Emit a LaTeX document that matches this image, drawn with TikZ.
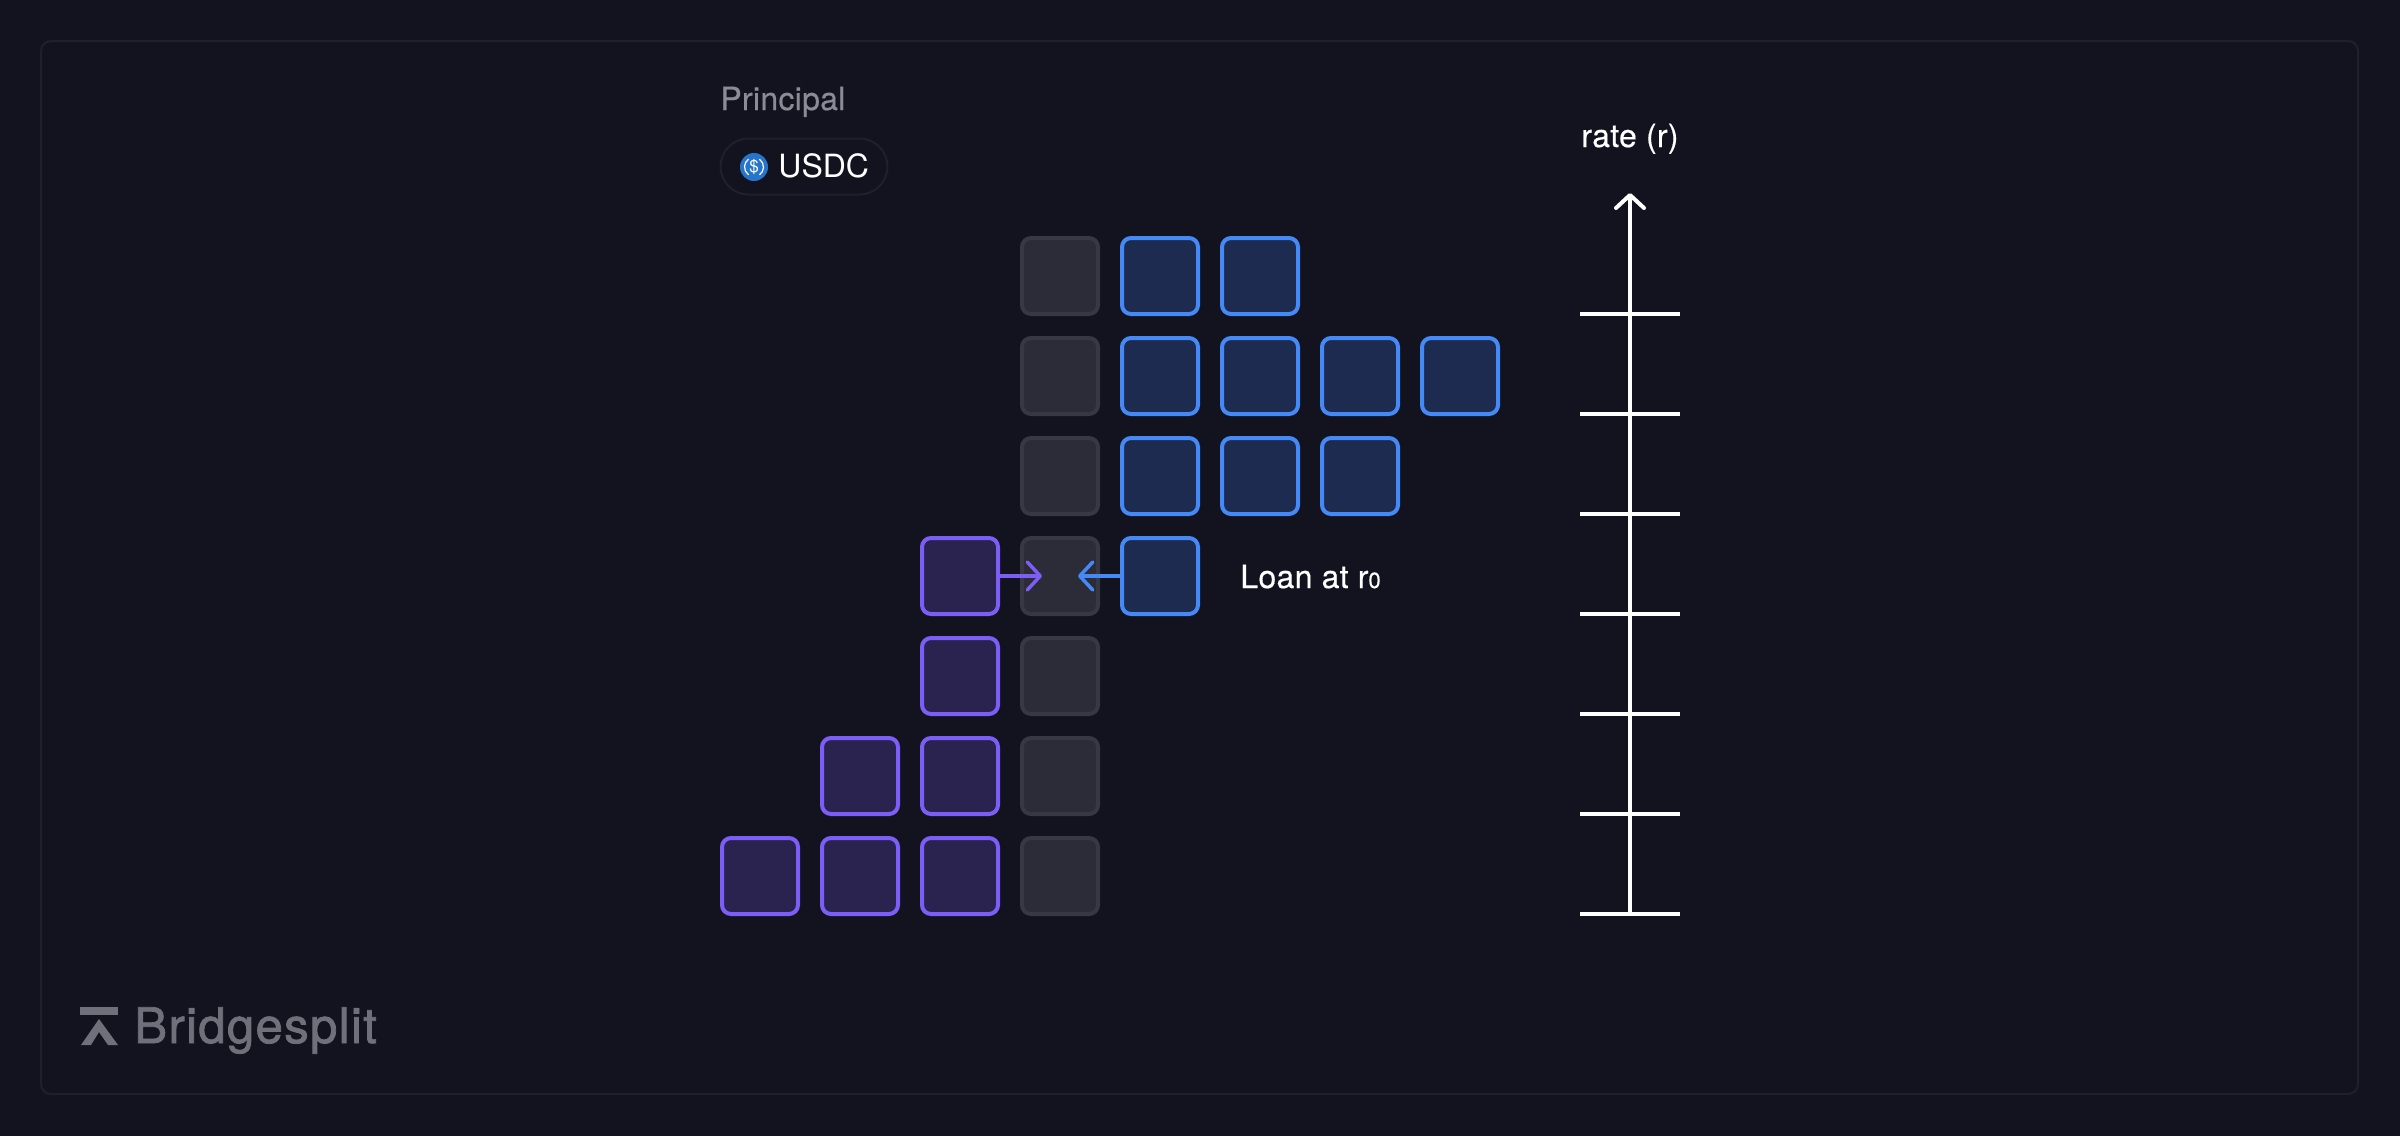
\documentclass[tikz,border=0pt]{standalone}
\usepackage{fontspec}
\setmainfont{TeX Gyre Heros}
\newfontfamily\mediumfont[FakeBold=0.4, LetterSpace=0.9]{TeX Gyre Heros}
\newfontfamily\brandfont[FakeBold=1.6, LetterSpace=2.8]{TeX Gyre Heros}
\usetikzlibrary{arrows.meta}
\definecolor{bgcol}{HTML}{12131F}
\definecolor{framecol}{HTML}{1F202B}
\definecolor{graycol}{HTML}{2B2C37}
\definecolor{graydraw}{HTML}{373843}
\definecolor{purplecol}{HTML}{2A2350}
\definecolor{purpledraw}{HTML}{7C5EF7}
\definecolor{bluecol}{HTML}{1C2B4F}
\definecolor{bluedraw}{HTML}{4589F7}
\definecolor{mutedcol}{HTML}{8B8B95}
\definecolor{logocol}{HTML}{6F7079}
\definecolor{usdccol}{HTML}{2775CA}
\begin{document}
\begin{tikzpicture}
 [x=0.5pt, y=-0.5pt,
  cell/.style={node distance=50pt, rectangle, rounded corners=4.5pt, inner sep=0pt, minimum size=38pt, line width=2pt},
  gray node/.style={cell, fill=graycol, draw=graydraw},
  purple node/.style={cell, fill=purplecol, draw=purpledraw},
  blue node/.style={cell, fill=bluecol, draw=bluedraw},
  label node/.style={anchor=base west, inner sep=0pt, font=\fontsize{16}{19}\selectfont},
  axis line/.style={white, line width=2pt},
  flow/.style={line width=1.75pt, line cap=round, -{Straight Barb[length=6.5pt, width=14pt, round]}}]

\useasboundingbox (0,0) rectangle (2400,1135.8);
\fill[bgcol] (-5,-5) rectangle (2405,1141);
\draw[framecol, line width=1pt, rounded corners=5pt] (41,41) rectangle (2358,1094);

\node[gray node] (g1) at (1060,276) {};
\node[gray node] (g2) [below of=g1] {};
\node[gray node] (g3) [below of=g2] {};
\node[gray node] (g4) [below of=g3] {};
\node[gray node] (g5) [below of=g4] {};
\node[gray node] (g6) [below of=g5] {};
\node[gray node] (g7) [below of=g6] {};

\node[blue node] (b11) [right of=g1] {};
\node[blue node] (b12) [right of=b11] {};
\node[blue node] (b21) [right of=g2] {};
\node[blue node] (b22) [right of=b21] {};
\node[blue node] (b23) [right of=b22] {};
\node[blue node] (b24) [right of=b23] {};
\node[blue node] (b31) [right of=g3] {};
\node[blue node] (b32) [right of=b31] {};
\node[blue node] (b33) [right of=b32] {};
\node[blue node] (b41) [right of=g4] {};

\node[purple node] (p41) [left of=g4] {};
\node[purple node] (p51) [left of=g5] {};
\node[purple node] (p61) [left of=g6] {};
\node[purple node] (p62) [left of=p61] {};
\node[purple node] (p71) [left of=g7] {};
\node[purple node] (p72) [left of=p71] {};
\node[purple node] (p73) [left of=p72] {};

\coordinate (tipl) at ([xshift=-9pt]g4.center);
\coordinate (tipr) at ([xshift=9pt]g4.center);
\path
  (p41) edge [flow, purpledraw] (tipl)
  (b41) edge [flow, bluedraw] (tipr);

\node[label node, white] (loan) at (1240,588) {\mediumfont Loan at r{\fontsize{11}{13}\selectfont 0}};
\node[label node, mutedcol] (principal) at (720,110) {\mediumfont Principal};

\node[draw=framecol, line width=1pt, rounded corners=14pt, minimum width=83.5pt, minimum height=28pt, inner sep=0pt] (pill) at (804,166.5) {};
\node[circle, fill=usdccol, minimum size=14pt, inner sep=0pt, text=white, font=\fontsize{8.5}{8.5}\selectfont] (coin) at (754,167) {\$};
\draw[white, line width=0.6pt] (coin.center) ++(125:9.5) arc (125:235:9.5);
\draw[white, line width=0.6pt] (coin.center) ++(-55:9.5) arc (-55:55:9.5);
\node[label node, white] (usdc) at (778,177) {USDC};

\node[white, inner sep=0pt, anchor=base, font=\fontsize{16}{19}\selectfont] (rate) at (1630,147) {\mediumfont rate (r)};

\coordinate (top) at (1630,193);
\coordinate (bot) at (1630,914);
\coordinate (t1l) at (1580,314); \coordinate (t1r) at (1680,314);
\coordinate (t2l) at (1580,414); \coordinate (t2r) at (1680,414);
\coordinate (t3l) at (1580,514); \coordinate (t3r) at (1680,514);
\coordinate (t4l) at (1580,614); \coordinate (t4r) at (1680,614);
\coordinate (t5l) at (1580,714); \coordinate (t5r) at (1680,714);
\coordinate (t6l) at (1580,814); \coordinate (t6r) at (1680,814);
\coordinate (t7l) at (1580,914); \coordinate (t7r) at (1680,914);
\path
  (bot) edge [axis line, -{Straight Barb[length=6.5pt, width=14pt, round]}] (top)
  (t1l) edge [axis line] (t1r)
  (t2l) edge [axis line] (t2r)
  (t3l) edge [axis line] (t3r)
  (t4l) edge [axis line] (t4r)
  (t5l) edge [axis line] (t5r)
  (t6l) edge [axis line] (t6r)
  (t7l) edge [axis line] (t7r);

% logo
\fill[logocol] (80,1007) rectangle (118,1015);
\fill[logocol] (99,1019) -- (118,1045) -- (108,1045) -- (99,1032) -- (91,1045) -- (81,1045) -- cycle;
\node[label node, logocol, font=\fontsize{24.5}{28}\selectfont] (brand) at (134,1043) {\brandfont Bridgesplit};

\end{tikzpicture}
\end{document}
